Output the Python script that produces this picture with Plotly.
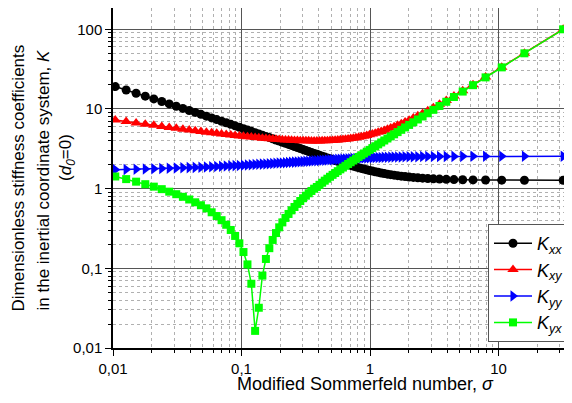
import plotly.graph_objects as go

# Modified Sommerfeld number (x), ascending
sigma = [0.010414, 0.012656, 0.015127, 0.017833, 0.020775, 0.023958, 0.027386, 0.031061, 0.034989, 0.039175,
         0.043620, 0.048331, 0.053313, 0.058570, 0.064107, 0.069933, 0.076050, 0.082462, 0.089182, 0.096209,
         0.10356, 0.11123, 0.11924, 0.12759, 0.13630, 0.14536, 0.15479, 0.16460, 0.17481, 0.18542,
         0.19644, 0.20790, 0.21980, 0.23216, 0.24500, 0.25834, 0.27218, 0.28657, 0.30152, 0.31703,
         0.33316, 0.34993, 0.36736, 0.38550, 0.40436, 0.42401, 0.44447, 0.46580, 0.48804, 0.51126,
         0.53552, 0.56088, 0.58743, 0.61525, 0.64443, 0.67508, 0.70731, 0.74127, 0.77710, 0.81497,
         0.85507, 0.89761, 0.94288, 0.99111, 1.0427, 1.0980, 1.1574, 1.2215, 1.2909, 1.3664,
         1.4489, 1.5394, 1.6392, 1.7501, 1.8741, 2.0136, 2.1722, 2.3542, 2.5653, 2.8136,
         3.1101, 3.4710, 3.9203, 4.4960, 5.2612, 6.3295, 7.928, 10.588, 15.901, 31.824]

K_xx = [19.096, 17.272, 15.751, 14.464, 13.360, 12.402, 11.564, 10.823, 10.164, 9.574,
        9.042, 8.561, 8.123, 7.723, 7.355, 7.017, 6.704, 6.414, 6.145, 5.894,
        5.660, 5.440, 5.234, 5.040, 4.857, 4.685, 4.522, 4.368, 4.222, 4.083,
        3.951, 3.826, 3.706, 3.592, 3.484, 3.380, 3.280, 3.185, 3.094, 3.007,
        2.923, 2.843, 2.766, 2.692, 2.621, 2.553, 2.487, 2.424, 2.364, 2.305,
        2.249, 2.195, 2.144, 2.094, 2.046, 2.000, 1.955, 1.913, 1.872, 1.833,
        1.795, 1.759, 1.724, 1.691, 1.659, 1.629, 1.600, 1.573, 1.546, 1.521,
        1.498, 1.475, 1.454, 1.434, 1.416, 1.398, 1.382, 1.367, 1.353, 1.340,
        1.328, 1.318, 1.309, 1.300, 1.293, 1.287, 1.282, 1.278, 1.276, 1.274]

K_xy = [7.264, 6.950, 6.677, 6.438, 6.226, 6.037, 5.866, 5.712, 5.572, 5.444,
        5.326, 5.218, 5.118, 5.026, 4.940, 4.860, 4.786, 4.717, 4.652, 4.592,
        4.535, 4.482, 4.432, 4.386, 4.342, 4.302, 4.264, 4.229, 4.196, 4.166,
        4.138, 4.112, 4.088, 4.067, 4.048, 4.031, 4.015, 4.003, 3.992, 3.983,
        3.977, 3.972, 3.971, 3.971, 3.974, 3.979, 3.987, 3.998, 4.011, 4.028,
        4.048, 4.071, 4.098, 4.129, 4.164, 4.203, 4.248, 4.297, 4.352, 4.414,
        4.483, 4.559, 4.643, 4.736, 4.840, 4.955, 5.084, 5.226, 5.385, 5.563,
        5.763, 5.988, 6.242, 6.531, 6.860, 7.238, 7.677, 8.188, 8.791, 9.510,
        10.381, 11.454, 12.805, 14.552, 16.895, 20.19, 25.153, 33.448, 50.08, 100.04]

K_yy = [1.729, 1.741, 1.753, 1.764, 1.776, 1.788, 1.800, 1.812, 1.824, 1.836,
        1.848, 1.860, 1.872, 1.884, 1.896, 1.908, 1.921, 1.933, 1.945, 1.957,
        1.970, 1.982, 1.994, 2.006, 2.019, 2.031, 2.043, 2.055, 2.067, 2.080,
        2.092, 2.104, 2.116, 2.128, 2.140, 2.152, 2.163, 2.175, 2.187, 2.199,
        2.210, 2.221, 2.233, 2.244, 2.255, 2.266, 2.277, 2.288, 2.298, 2.309,
        2.319, 2.329, 2.339, 2.349, 2.359, 2.368, 2.377, 2.386, 2.395, 2.404,
        2.413, 2.421, 2.429, 2.437, 2.444, 2.452, 2.459, 2.466, 2.472, 2.479,
        2.485, 2.491, 2.496, 2.502, 2.507, 2.512, 2.516, 2.520, 2.524, 2.528,
        2.531, 2.534, 2.536, 2.539, 2.541, 2.543, 2.544, 2.545, 2.546, 2.546]

K_yx = [1.421, 1.317, 1.223, 1.137, 1.059, 0.9852, 0.9164, 0.8515, 0.7897, 0.7307,
        0.6739, 0.6191, 0.5658, 0.505, 0.453, 0.402, 0.352, 0.303, 0.255, 0.206,
        0.160, 0.112, 0.064, 0.0164, 0.032, 0.081, 0.131, 0.179, 0.227, 0.277,
        0.327, 0.377, 0.429, 0.481, 0.534, 0.588, 0.643, 0.700, 0.758, 0.816,
        0.875, 0.935, 0.998, 1.0493, 1.1168, 1.1865, 1.2584, 1.3326, 1.4094, 1.4890,
        1.5715, 1.6572, 1.7464, 1.8392, 1.9362, 2.0375, 2.1434, 2.2547, 2.3716, 2.4947,
        2.6246, 2.7620, 2.9077, 3.0627, 3.2279, 3.4046, 3.5943, 3.7982, 4.0189, 4.2588,
        4.5203, 4.8067, 5.1228, 5.4731, 5.8643, 6.3047, 6.8047, 7.3781, 8.0433, 8.8245,
        9.7575, 10.893, 12.306, 14.116, 16.521, 19.878, 24.903, 33.26, 49.95, 99.98]

x_tickvals = [0.01, 0.1, 1, 10]
x_ticktext = ["0,01", "0,1", "1", "10"]
y_tickvals = [0.01, 0.1, 1, 10, 100]
y_ticktext = ["0,01", "0,1", "1", "10", "100"]
x_minor = [m * d for d in (0.01, 0.1, 1, 10) for m in range(2, 10)]
y_minor = [m * d for d in (0.01, 0.1, 1, 10, 100) for m in range(2, 10)]

x_title = "Modified Sommerfeld number, <i>σ</i>"
y_title_lines = ["Dimensionless stiffness coefficients",
                 "in the inertial coordinate system, <i>K</i>",
                 "(<i>d<sub>0</sub></i>=0)"]

series = [
    ("<i>K</i><sub><i>xx</i></sub>", K_xx, "#000000", "circle", 9),
    ("<i>K</i><sub><i>xy</i></sub>", K_xy, "#ff0000", "triangle-up", 10),
    ("<i>K</i><sub><i>yy</i></sub>", K_yy, "#0000ff", "triangle-right", 10),
    ("<i>K</i><sub><i>yx</i></sub>", K_yx, "#00ff00", "square", 8),
]

fig = go.Figure()
for name, ys, col, sym, sz in series:
    fig.add_trace(go.Scatter(
        x=sigma, y=ys, mode="lines+markers", name=name,
        line=dict(color=col, width=1.5),
        marker=dict(symbol=sym, size=sz, color=col, line=dict(width=0)),
    ))

FONT = "Liberation Sans, Arial, sans-serif"
axis_common = dict(
    type="log", showline=True, linecolor="black", linewidth=1.5, mirror=True,
    ticks="outside", ticklen=6, tickcolor="black", tickwidth=1,
    showgrid=True, gridcolor="#555555", gridwidth=1, zeroline=False,
    automargin=False,
)
minor_common = dict(tickmode="array", ticks="outside", ticklen=3, tickcolor="black",
                    showgrid=True, gridcolor="#b0b0b0", griddash="dot", gridwidth=1)

# The page body has an 8 px margin: work in page pixels and subtract it.
OFF = 8
FW, FH = 572 - OFF, 403 - OFF
L = 113 - OFF
W = 457
T = 0
H = 348 - OFF - T

fig.update_xaxes(**axis_common, range=[-2, 1.556], tickvals=x_tickvals, ticktext=x_ticktext,
                 minor=dict(**minor_common, tickvals=x_minor))
fig.update_yaxes(**axis_common, range=[-2, 2.267], tickvals=y_tickvals, ticktext=y_ticktext,
                 minor=dict(**minor_common, tickvals=y_minor))

def px(xp):
    return (xp - OFF - L) / W
def py(yp):
    return (T + H - (yp - OFF)) / H

annotations = [dict(text=x_title, x=px(365), y=py(384), xref="paper", yref="paper",
                    xanchor="center", yanchor="middle", showarrow=False, font=dict(size=18))]
for txt, xc, yc in zip(y_title_lines, (18, 43, 67), (178.5, 180.5, 158)):
    annotations.append(dict(text=txt, x=px(xc), y=py(yc), xref="paper", yref="paper",
                            xanchor="center", yanchor="middle", textangle=-90,
                            showarrow=False, font=dict(size=17)))

fig.update_layout(
    width=FW, height=FH,
    margin=dict(l=L, r=FW - L - W, t=T, b=FH - T - H, pad=0),
    plot_bgcolor="white", paper_bgcolor="white",
    font=dict(family=FONT, size=15, color="black"),
    annotations=annotations,
    legend=dict(x=px(569), xanchor="right", y=py(342), yanchor="bottom",
                bgcolor="white", bordercolor="#555555", borderwidth=1,
                font=dict(size=18), tracegroupgap=0, itemwidth=38),
)

fig.write_html("out.html")
